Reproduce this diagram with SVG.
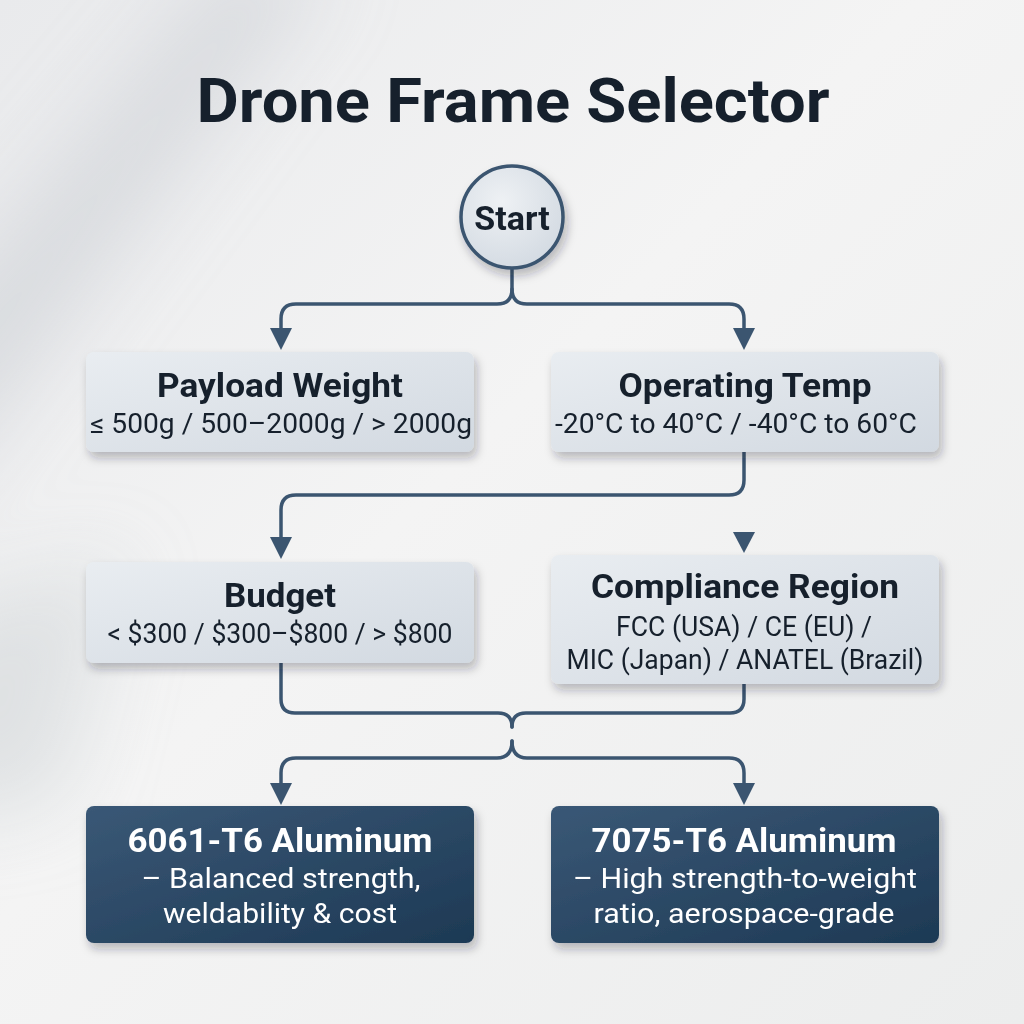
<svg xmlns="http://www.w3.org/2000/svg" width="1024" height="1024" viewBox="0 0 1024 1024">
<defs>
  <linearGradient id="bg" x1="0" y1="0" x2="1" y2="1">
    <stop offset="0" stop-color="#e9eaec"/>
    <stop offset="0.45" stop-color="#f4f4f4"/>
    <stop offset="1" stop-color="#eceded"/>
  </linearGradient>
  <linearGradient id="light" x1="0" y1="0" x2="1" y2="1">
    <stop offset="0" stop-color="#e9edf1"/>
    <stop offset="1" stop-color="#d2d9e1"/>
  </linearGradient>
  <linearGradient id="dark" x1="0" y1="0" x2="1" y2="1">
    <stop offset="0" stop-color="#3a5876"/>
    <stop offset="1" stop-color="#1d3954"/>
  </linearGradient>
  <radialGradient id="circ" cx="0.4" cy="0.35" r="0.7">
    <stop offset="0" stop-color="#eef1f4"/>
    <stop offset="1" stop-color="#d3dae2"/>
  </radialGradient>
  <filter id="sh" x="-10%" y="-10%" width="125%" height="140%">
    <feDropShadow dx="3" dy="6" stdDeviation="5" flood-color="#1c2733" flood-opacity="0.28"/>
  </filter>
  <filter id="soft" x="-50%" y="-50%" width="200%" height="200%">
    <feGaussianBlur stdDeviation="40"/>
  </filter>
  <marker id="arr" markerUnits="userSpaceOnUse" markerWidth="24" markerHeight="22" refX="0" refY="11" orient="auto">
    <path d="M0,0 L22,11 L0,22 Z" fill="#3b5570"/>
  </marker>
  <style>
    .title{font-family:Roboto,"Liberation Sans",sans-serif;font-weight:700;fill:#16202c;text-anchor:middle}
    .nt{font-family:Roboto,"Liberation Sans",sans-serif;font-weight:700;font-size:34px;fill:#16202c;text-anchor:middle}
    .ns{font-family:Roboto,"Liberation Sans",sans-serif;font-weight:400;font-size:27px;fill:#16202c;text-anchor:middle}
    .dt{font-family:Roboto,"Liberation Sans",sans-serif;font-weight:700;font-size:34px;fill:#ffffff;text-anchor:middle}
    .ds{font-family:Roboto,"Liberation Sans",sans-serif;font-weight:400;font-size:28px;fill:#ffffff;text-anchor:middle}
    .lbox{fill:url(#light);filter:url(#sh)}
    .dbox{fill:url(#dark);filter:url(#sh)}
    .conn{fill:none;stroke:#3b5570;stroke-width:3.5;stroke-linecap:round}
  </style>
</defs>

<rect width="1024" height="1024" fill="url(#bg)"/>
<g filter="url(#soft)">
  <polygon points="-80,330 230,-40 330,-40 -80,520" fill="#c8ccd1" opacity="0.55"/>
  <polygon points="-80,620 120,560 60,800 -80,820" fill="#cdd1d5" opacity="0.5"/>
</g>

<text class="title" x="513" y="122" font-size="62" textLength="633" lengthAdjust="spacingAndGlyphs">Drone Frame Selector</text>

<g id="connectors">
  <path class="conn" d="M512,268 V289 Q512,304 497,304 H296 Q281,304 281,319 V328" marker-end="url(#arr)"/>
  <path class="conn" d="M512,289 Q512,304 527,304 H729 Q744,304 744,319 V328" marker-end="url(#arr)"/>
  <path class="conn" d="M744,452 V480 Q744,495 729,495 H296 Q281,495 281,510 V537" marker-end="url(#arr)"/>
  <polygon points="733,532 755,532 744,553" fill="#3b5570"/>
  <path class="conn" d="M281,663 V699 Q281,713 295,713 H498 Q512,713 512,727"/>
  <path class="conn" d="M744,684 V699 Q744,713 730,713 H526 Q512,713 512,727"/>
  <path class="conn" d="M512,741 Q512,758 497,758 H296 Q281,758 281,773 V783" marker-end="url(#arr)"/>
  <path class="conn" d="M512,741 Q512,758 527,758 H729 Q744,758 744,773 V783" marker-end="url(#arr)"/>
</g>

<g id="start">
  <circle cx="512" cy="217" r="51" fill="url(#circ)" stroke="#3b5570" stroke-width="3.5" filter="url(#sh)"/>
  <text class="nt" x="512" y="230" font-size="35">Start</text>
</g>

<g id="payload">
  <rect class="lbox" x="86" y="352" width="388" height="100" rx="8"/>
  <text class="nt" x="280" y="397" textLength="246" lengthAdjust="spacingAndGlyphs">Payload Weight</text>
  <text class="ns" x="281" y="433" textLength="382" lengthAdjust="spacingAndGlyphs">≤ 500g / 500–2000g / &gt; 2000g</text>
</g>

<g id="temp">
  <rect class="lbox" x="551" y="352" width="388" height="100" rx="8"/>
  <text class="nt" x="745" y="397" textLength="253" lengthAdjust="spacingAndGlyphs">Operating Temp</text>
  <text class="ns" x="736" y="433" textLength="362" lengthAdjust="spacingAndGlyphs">-20°C to 40°C / -40°C to 60°C</text>
</g>

<g id="budget">
  <rect class="lbox" x="86" y="562" width="388" height="101" rx="8"/>
  <text class="nt" x="280" y="607" textLength="112" lengthAdjust="spacingAndGlyphs">Budget</text>
  <text class="ns" x="280" y="643" textLength="345" lengthAdjust="spacingAndGlyphs">&lt; $300 / $300–$800 / &gt; $800</text>
</g>

<g id="compliance">
  <rect class="lbox" x="551" y="555" width="388" height="129" rx="8"/>
  <text class="nt" x="745" y="598" textLength="308" lengthAdjust="spacingAndGlyphs">Compliance Region</text>
  <text class="ns" x="744" y="636" textLength="256" lengthAdjust="spacingAndGlyphs">FCC (USA) / CE (EU) /</text>
  <text class="ns" x="745" y="669" textLength="357" lengthAdjust="spacingAndGlyphs">MIC (Japan) / ANATEL (Brazil)</text>
</g>

<g id="al6061">
  <rect class="dbox" x="86" y="806" width="388" height="137" rx="8"/>
  <text class="dt" x="280" y="852" textLength="305" lengthAdjust="spacingAndGlyphs">6061-T6 Aluminum</text>
  <text class="ds" x="281" y="888" textLength="279" lengthAdjust="spacingAndGlyphs">– Balanced strength,</text>
  <text class="ds" x="280" y="923" textLength="234" lengthAdjust="spacingAndGlyphs">weldability &amp; cost</text>
</g>

<g id="al7075">
  <rect class="dbox" x="551" y="806" width="388" height="137" rx="8"/>
  <text class="dt" x="744" y="852" textLength="305" lengthAdjust="spacingAndGlyphs">7075-T6 Aluminum</text>
  <text class="ds" x="745" y="888" textLength="344" lengthAdjust="spacingAndGlyphs">– High strength-to-weight</text>
  <text class="ds" x="744" y="923" textLength="301" lengthAdjust="spacingAndGlyphs">ratio, aerospace-grade</text>
</g>
</svg>
